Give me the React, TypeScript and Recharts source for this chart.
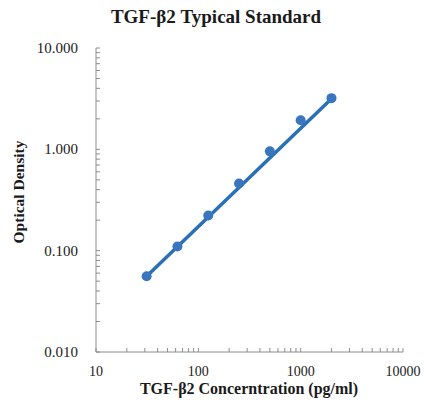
import React from "react";
import { ScatterChart, Scatter, XAxis, YAxis } from "recharts";

// ---- data ----
const CONCENTRATION = [31.25, 62.5, 125, 250, 500, 1000, 2000];
const OPTICAL_DENSITY = [0.056, 0.11, 0.222, 0.46, 0.955, 1.94, 3.2];
const TREND_X = [31.25, 2000];
const TREND_Y = [0.056, 3.15];

const X_MAJOR = [10, 100, 1000, 10000];
const X_LABELS = ["10", "100", "1000", "10000"];
const Y_MAJOR = [0.01, 0.1, 1, 10];
const Y_LABELS = ["0.010", "0.100", "1.000", "10.000"];
const MINOR_STEPS = [2, 3, 4, 5, 6, 7, 8, 9];

const TITLE = "TGF-\u03B22 Typical Standard";
const X_TITLE = "TGF-\u03B22 Concerntration (pg/ml)";
const Y_TITLE = "Optical Density";

// ---- derived tables ----
const points = CONCENTRATION.map((x, i) => ({ x, y: OPTICAL_DENSITY[i] }));
const trend = TREND_X.map((x, i) => ({ x, y: TREND_Y[i] }));

const buildTicks = (majors: number[]) => {
  const out: number[] = [];
  majors.forEach((m, i) => {
    out.push(m);
    if (i < majors.length - 1) MINOR_STEPS.forEach((s) => out.push(+(m * s).toPrecision(6)));
  });
  return out;
};
const X_TICKS = buildTicks(X_MAJOR);
const Y_TICKS = buildTicks(Y_MAJOR);

const majorIndex = (majors: number[], v: number) =>
  majors.findIndex((m) => Math.abs(m - v) / m < 1e-6);

const FONT = "'Liberation Serif', 'Times New Roman', serif";
const AXIS = "#8c8c8c";
const LINE = "#2a70b8";
const MARK = "#3a76be";
const TEXT = "#1a1a1a";

const XTick = (props: any) => {
  const { x, y, payload } = props;
  const idx = majorIndex(X_MAJOR, payload.value);
  return (
    <g>
      <line x1={x} x2={x} y1={y} y2={y - 4} stroke={AXIS} strokeWidth={1} />
      {idx >= 0 && (
        <text x={x} y={y + 24} textAnchor="middle" style={{ fontFamily: FONT, fontSize: 14 }} fill={TEXT}>
          {X_LABELS[idx]}
        </text>
      )}
    </g>
  );
};

const YTick = (props: any) => {
  const { x, y, payload } = props;
  const idx = majorIndex(Y_MAJOR, payload.value);
  return (
    <g>
      <line x1={x} x2={x + 4} y1={y} y2={y} stroke={AXIS} strokeWidth={1} />
      {idx >= 0 && (
        <text x={x - 18} y={y + 5} textAnchor="end" style={{ fontFamily: FONT, fontSize: 15 }} fill={TEXT}>
          {Y_LABELS[idx]}
        </text>
      )}
    </g>
  );
};

const Dot = (props: any) => {
  const { cx, cy } = props;
  return <circle cx={cx} cy={cy} r={5} fill={MARK} />;
};

export default function App() {
  return (
    <div
      style={{
        position: "absolute",
        left: 0,
        top: 0,
        width: 424,
        height: 406,
        background: "#fff",
        fontFamily: FONT,
      }}
    >
      <div
        style={{
          position: "absolute",
          left: 0,
          width: 432,
          top: 5,
          textAlign: "center",
          fontWeight: "bold",
          fontSize: 19,
          color: TEXT,
          lineHeight: "24px",
        }}
      >
        {TITLE}
      </div>
      <div
        style={{
          position: "absolute",
          left: 19 - 100,
          top: 192 - 10,
          width: 200,
          height: 20,
          lineHeight: "20px",
          textAlign: "center",
          transform: "rotate(-90deg)",
          fontWeight: "bold",
          fontSize: 15.5,
          color: TEXT,
        }}
      >
        {Y_TITLE}
      </div>
      <div
        style={{
          position: "absolute",
          left: 249 - 150,
          top: 379,
          width: 300,
          textAlign: "center",
          fontWeight: "bold",
          fontSize: 16,
          lineHeight: "20px",
          color: TEXT,
        }}
      >
        {X_TITLE}
      </div>
      <div style={{ position: "absolute", left: 0, top: 0 }}>
        <ScatterChart width={424} height={406} margin={{ top: 48, right: 21, bottom: 24, left: 36 }}>
          <XAxis
            type="number"
            dataKey="x"
            scale="log"
            domain={[10, 10000]}
            allowDataOverflow
            ticks={X_TICKS}
            interval={0}
            tick={<XTick />}
            tickLine={false}
            tickSize={0}
            tickMargin={0}
            height={30}
            axisLine={{ stroke: AXIS, strokeWidth: 1 }}
          />
          <YAxis
            type="number"
            dataKey="y"
            scale="log"
            domain={[0.01, 10]}
            allowDataOverflow
            ticks={Y_TICKS}
            interval={0}
            tick={<YTick />}
            tickLine={false}
            tickSize={0}
            tickMargin={0}
            width={60}
            axisLine={{ stroke: AXIS, strokeWidth: 1 }}
          />
          <Scatter
            data={trend}
            line={{ stroke: LINE, strokeWidth: 3.5 }}
            shape={() => <g />}
            isAnimationActive={false}
          />
          <Scatter data={points} shape={<Dot />} isAnimationActive={false} />
        </ScatterChart>
      </div>
    </div>
  );
}
